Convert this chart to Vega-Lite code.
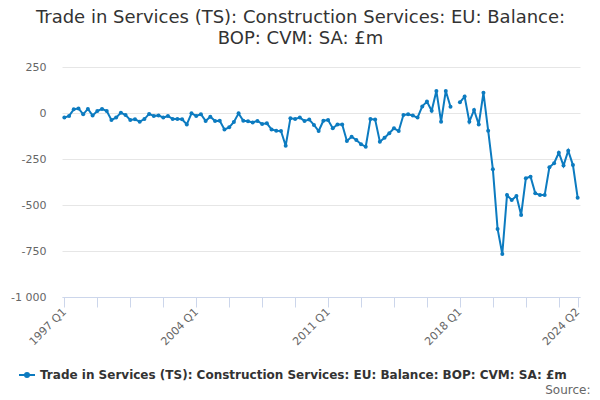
{
  "$schema": "https://vega.github.io/schema/vega-lite/v6.json",
  "autosize": "none",
  "padding": {"left": 61, "top": 67, "right": 16, "bottom": 103},
  "width": 523,
  "height": 230,
  "background": "white",
  "title": {
    "text": ["Trade in Services (TS): Construction Services: EU: Balance:", "BOP: CVM: SA: £m"],
    "font": "DejaVu Sans",
    "fontSize": 18,
    "fontWeight": "normal",
    "color": "#333333",
    "lineHeight": 21,
    "anchor": "middle",
    "dx": -22,
    "offset": 13
  },
  "data": {
    "values": [
      {"q": "1997 Q1", "v": -25}, {"q": "1997 Q2", "v": -16}, {"q": "1997 Q3", "v": 20}, {"q": "1997 Q4", "v": 25},
      {"q": "1998 Q1", "v": -7}, {"q": "1998 Q2", "v": 22}, {"q": "1998 Q3", "v": -14}, {"q": "1998 Q4", "v": 11},
      {"q": "1999 Q1", "v": 22}, {"q": "1999 Q2", "v": 11}, {"q": "1999 Q3", "v": -38}, {"q": "1999 Q4", "v": -25},
      {"q": "2000 Q1", "v": 2}, {"q": "2000 Q2", "v": -11}, {"q": "2000 Q3", "v": -38}, {"q": "2000 Q4", "v": -34},
      {"q": "2001 Q1", "v": -47}, {"q": "2001 Q2", "v": -33}, {"q": "2001 Q3", "v": -5}, {"q": "2001 Q4", "v": -16},
      {"q": "2002 Q1", "v": -13}, {"q": "2002 Q2", "v": -25}, {"q": "2002 Q3", "v": -16}, {"q": "2002 Q4", "v": -33},
      {"q": "2003 Q1", "v": -33}, {"q": "2003 Q2", "v": -34}, {"q": "2003 Q3", "v": -62}, {"q": "2003 Q4", "v": -2},
      {"q": "2004 Q1", "v": -16}, {"q": "2004 Q2", "v": -7}, {"q": "2004 Q3", "v": -43}, {"q": "2004 Q4", "v": -20},
      {"q": "2005 Q1", "v": -43}, {"q": "2005 Q2", "v": -42}, {"q": "2005 Q3", "v": -89}, {"q": "2005 Q4", "v": -78},
      {"q": "2006 Q1", "v": -49}, {"q": "2006 Q2", "v": -2}, {"q": "2006 Q3", "v": -42}, {"q": "2006 Q4", "v": -45},
      {"q": "2007 Q1", "v": -51}, {"q": "2007 Q2", "v": -43}, {"q": "2007 Q3", "v": -60}, {"q": "2007 Q4", "v": -56},
      {"q": "2008 Q1", "v": -89}, {"q": "2008 Q2", "v": -96}, {"q": "2008 Q3", "v": -98}, {"q": "2008 Q4", "v": -178},
      {"q": "2009 Q1", "v": -29}, {"q": "2009 Q2", "v": -33}, {"q": "2009 Q3", "v": -25}, {"q": "2009 Q4", "v": -43},
      {"q": "2010 Q1", "v": -36}, {"q": "2010 Q2", "v": -65}, {"q": "2010 Q3", "v": -98}, {"q": "2010 Q4", "v": -42},
      {"q": "2011 Q1", "v": -38}, {"q": "2011 Q2", "v": -83}, {"q": "2011 Q3", "v": -62}, {"q": "2011 Q4", "v": -63},
      {"q": "2012 Q1", "v": -152}, {"q": "2012 Q2", "v": -129}, {"q": "2012 Q3", "v": -147}, {"q": "2012 Q4", "v": -170},
      {"q": "2013 Q1", "v": -183}, {"q": "2013 Q2", "v": -33}, {"q": "2013 Q3", "v": -36}, {"q": "2013 Q4", "v": -156},
      {"q": "2014 Q1", "v": -134}, {"q": "2014 Q2", "v": -110}, {"q": "2014 Q3", "v": -83}, {"q": "2014 Q4", "v": -98},
      {"q": "2015 Q1", "v": -11}, {"q": "2015 Q2", "v": -7}, {"q": "2015 Q3", "v": -14}, {"q": "2015 Q4", "v": -25},
      {"q": "2016 Q1", "v": 36}, {"q": "2016 Q2", "v": 62}, {"q": "2016 Q3", "v": 12}, {"q": "2016 Q4", "v": 120},
      {"q": "2017 Q1", "v": -47}, {"q": "2017 Q2", "v": 120}, {"q": "2017 Q3", "v": 34}, {"q": "2017 Q4", "v": null},
      {"q": "2018 Q1", "v": 58}, {"q": "2018 Q2", "v": 89}, {"q": "2018 Q3", "v": -47}, {"q": "2018 Q4", "v": 16},
      {"q": "2019 Q1", "v": -62}, {"q": "2019 Q2", "v": 110}, {"q": "2019 Q3", "v": -96}, {"q": "2019 Q4", "v": -306},
      {"q": "2020 Q1", "v": -630}, {"q": "2020 Q2", "v": -766}, {"q": "2020 Q3", "v": -446}, {"q": "2020 Q4", "v": -473},
      {"q": "2021 Q1", "v": -451}, {"q": "2021 Q2", "v": -554}, {"q": "2021 Q3", "v": -355}, {"q": "2021 Q4", "v": -346},
      {"q": "2022 Q1", "v": -436}, {"q": "2022 Q2", "v": -446}, {"q": "2022 Q3", "v": -446}, {"q": "2022 Q4", "v": -295},
      {"q": "2023 Q1", "v": -273}, {"q": "2023 Q2", "v": -216}, {"q": "2023 Q3", "v": -286}, {"q": "2023 Q4", "v": -205},
      {"q": "2024 Q1", "v": -283}, {"q": "2024 Q2", "v": -460}
    ]
  },
  "mark": {
    "type": "line",
    "strokeWidth": 2,
    "invalid": "break-paths-show-domains",
    "point": {"filled": true, "size": 16}
  },
  "encoding": {
    "x": {
      "field": "q",
      "type": "ordinal",
      "sort": null,
      "scale": {"type": "point", "range": [1, 519]},
      "axis": {
        "values": ["1997 Q1", "1998 Q4", "2000 Q3", "2002 Q2", "2004 Q1", "2005 Q4", "2007 Q3", "2009 Q2", "2011 Q1", "2012 Q4", "2014 Q3", "2016 Q2", "2018 Q1", "2019 Q4", "2021 Q3", "2023 Q2", "2024 Q2"],
        "labelExpr": "indexof(['1997 Q1', '2004 Q1', '2011 Q1', '2018 Q1', '2024 Q2'], datum.label) >= 0 ? datum.label : ''",
        "labelAngle": -45,
        "labelAlign": "right",
        "labelBaseline": "middle",
        "labelFont": "DejaVu Sans",
        "labelFontSize": 11,
        "labelColor": "#666666",
        "labelPadding": 3,
        "labelOverlap": false,
        "tickColor": "#ccd6eb",
        "tickSize": 10,
        "domainColor": "#ccd6eb",
        "grid": false,
        "title": "Source:",
        "titleFont": "DejaVu Sans",
        "titleFontSize": 12,
        "titleFontWeight": "normal",
        "titleColor": "#666666",
        "titleAlign": "right",
        "titleAnchor": "end",
        "titleBaseline": "alphabetic",
        "titleX": 529,
        "titleY": 96
      }
    },
    "y": {
      "field": "v",
      "type": "quantitative",
      "scale": {"domain": [-1000, 250], "nice": false, "zero": false},
      "axis": {
        "values": [-1000, -750, -500, -250, 0, 250],
        "labelExpr": "datum.value == -1000 ? '-1 000' : '' + datum.value",
        "labelFont": "DejaVu Sans",
        "labelFontSize": 11,
        "labelColor": "#666666",
        "labelPadding": 15,
        "domain": false,
        "ticks": false,
        "gridColor": "#e6e6e6",
        "title": null
      }
    },
    "color": {
      "datum": "Trade in Services (TS): Construction Services: EU: Balance: BOP: CVM: SA: £m",
      "scale": {"range": ["#0c7bc0"]},
      "legend": {
        "orient": "none",
        "legendX": -43,
        "legendY": 299,
        "title": null,
        "symbolType": "M-1,0L1,0M-0.25,0a0.25,0.25 0 1,0 0.5,0a0.25,0.25 0 1,0 -0.5,0",
        "symbolSize": 256,
        "symbolStrokeWidth": 2,
        "labelFont": "DejaVu Sans",
        "labelFontSize": 12,
        "labelFontWeight": "bold",
        "labelColor": "#333333",
        "labelLimit": 700
      }
    }
  },
  "config": {
    "view": {"stroke": null}
  }
}
